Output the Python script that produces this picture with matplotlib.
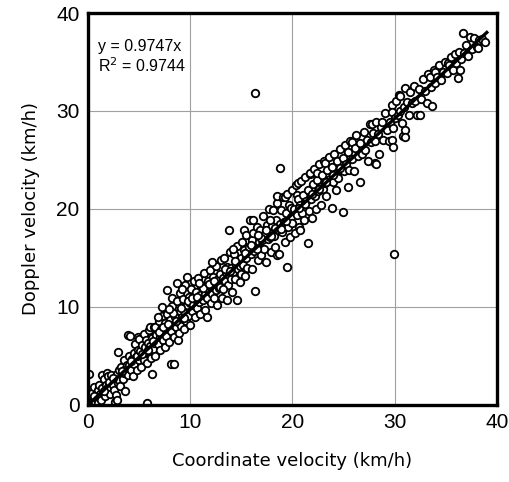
import matplotlib
matplotlib.use("Agg")
import matplotlib.pyplot as plt
import numpy as np

# Scatter points (coordinate velocity, doppler velocity) in km/h
band_00_05 = [
    (0.0, 0.0), (0.1, 0.2), (0.1, 3.2), (0.2, 0.6), (0.2, 0.9), (0.3, 0.1), (0.4, 1.2), (0.4, 0.0),
    (0.5, 0.4), (0.6, 1.8), (0.7, 0.3), (0.8, 1.0), (0.9, 0.6), (1.0, 1.5), (1.0, 0.2), (1.1, 2.0),
    (1.2, 1.1), (1.3, 0.5), (1.4, 1.7), (1.4, 3.1), (1.5, 1.2), (1.6, 2.6), (1.7, 0.9), (1.8, 2.0),
    (1.9, 1.4), (1.9, 3.3), (2.0, 2.9), (2.0, 1.8), (2.1, 2.3), (2.2, 1.1), (2.3, 3.0), (2.4, 2.0),
    (2.5, 1.5), (2.6, 0.3), (2.7, 1.0), (2.7, 2.6), (2.8, 3.2), (2.8, 0.5), (2.9, 2.2), (2.9, 5.4),
    (3.0, 3.6), (3.0, 2.5), (3.1, 1.9), (3.2, 3.9), (3.3, 3.0), (3.4, 2.6), (3.5, 4.6), (3.5, 3.3),
    (3.6, 1.4), (3.7, 3.8), (3.8, 4.1), (3.9, 3.1), (3.9, 7.1), (4.0, 5.0), (4.0, 4.1), (4.1, 7.0),
    (4.2, 3.6), (4.3, 4.7), (4.4, 2.9), (4.5, 5.3), (4.5, 4.2), (4.6, 6.2), (4.7, 4.9), (4.8, 3.6),
    (4.9, 5.6), (4.9, 6.9), (5.0, 4.6), (5.0, 6.7),
    (0.6, 0.9), (1.6, 1.4), (2.4, 2.7), (3.3, 3.5), (4.2, 4.5), (4.8, 5.0),
]
band_05_10 = [
    (5.1, 5.5), (5.2, 3.9), (5.3, 6.1), (5.4, 5.0), (5.5, 7.2), (5.5, 4.6), (5.6, 5.9), (5.7, 6.6),
    (5.8, 0.2), (5.8, 4.3), (5.9, 6.3), (6.0, 5.4), (6.0, 7.6), (6.1, 6.0), (6.1, 7.9), (6.2, 4.8),
    (6.3, 3.2), (6.3, 6.8), (6.4, 5.7), (6.5, 8.0), (6.5, 6.3), (6.6, 5.0), (6.6, 7.9), (6.7, 7.1),
    (6.8, 6.2), (6.9, 8.6), (7.0, 6.9), (7.0, 5.6), (7.1, 7.7), (7.2, 9.1), (7.2, 10.0), (7.3, 6.6),
    (7.4, 7.3), (7.5, 8.4), (7.5, 5.9), (7.6, 7.0), (7.7, 11.7), (7.7, 9.3), (7.8, 7.8), (7.9, 6.4),
    (8.0, 8.7), (8.1, 4.2), (8.1, 7.5), (8.2, 10.1), (8.2, 10.9), (8.3, 8.2), (8.4, 4.2), (8.4, 6.9),
    (8.5, 9.0), (8.6, 7.9), (8.7, 10.6), (8.7, 12.4), (8.8, 8.5), (8.8, 6.6), (8.9, 7.3), (9.0, 9.6),
    (9.0, 11.4), (9.1, 8.1), (9.2, 9.0), (9.3, 10.8), (9.4, 7.7), (9.5, 9.4), (9.5, 12.2), (9.6, 8.6),
    (9.7, 13.1), (9.7, 10.2), (9.8, 9.1), (9.9, 11.0), (10.0, 8.2), (10.0, 10.4),
    (5.3, 5.2), (5.9, 5.6), (6.4, 6.5), (6.9, 7.4), (7.3, 7.9), (7.8, 8.3), (8.3, 9.4), (8.6, 8.6),
    (9.1, 9.9), (9.4, 8.9), (9.8, 10.6), (6.8, 9.0), (7.9, 9.8), (9.2, 11.8),
]
band_10_15 = [
    (10.1, 11.8), (10.2, 9.6), (10.3, 10.2), (10.4, 12.6), (10.5, 9.0), (10.5, 10.8), (10.6, 11.5),
    (10.7, 9.9), (10.8, 13.0), (10.9, 10.5), (11.0, 11.2), (11.0, 9.3), (11.1, 12.1), (11.2, 10.7),
    (11.3, 13.5), (11.4, 9.7), (11.4, 11.3), (11.5, 12.0), (11.6, 9.0), (11.6, 10.9), (11.7, 12.6),
    (11.8, 11.6), (11.9, 13.8), (12.0, 10.4), (12.0, 12.0), (12.1, 11.3), (12.2, 13.1), (12.3, 10.9),
    (12.4, 12.3), (12.5, 14.2), (12.5, 11.7), (12.6, 10.2), (12.7, 12.8), (12.8, 11.9), (12.9, 13.4),
    (13.0, 14.8), (13.0, 12.4), (13.1, 10.9), (13.2, 13.0), (13.3, 15.0), (13.4, 12.6), (13.5, 13.6),
    (13.6, 10.7), (13.6, 14.1), (13.7, 12.2), (13.8, 17.9), (13.8, 13.3), (13.9, 15.6), (14.0, 12.8),
    (14.0, 14.0), (14.1, 11.5), (14.2, 13.6), (14.3, 15.4), (14.4, 12.9), (14.5, 14.3), (14.6, 10.7),
    (14.6, 16.2), (14.7, 13.9), (14.8, 14.8), (14.9, 12.5), (15.0, 15.0), (15.0, 13.4),
    (10.2, 10.9), (10.7, 11.0), (11.2, 11.9), (11.8, 12.3), (12.3, 12.6), (12.9, 12.0), (13.4, 13.9),
    (13.9, 13.7), (14.4, 14.7), (14.9, 14.2), (10.9, 12.4), (12.1, 14.6), (13.2, 11.8), (14.2, 15.9),
]
band_15_20 = [
    (15.1, 16.6), (15.2, 14.3), (15.3, 15.8), (15.3, 17.9), (15.4, 13.2), (15.5, 17.3), (15.5, 15.0),
    (15.6, 14.0), (15.7, 16.1), (15.8, 18.9), (15.9, 15.4), (16.0, 16.8), (16.0, 13.9), (16.1, 17.5),
    (16.1, 18.9), (16.2, 15.7), (16.3, 31.8), (16.3, 11.6), (16.4, 16.2), (16.5, 18.2), (16.6, 14.8),
    (16.7, 16.6), (16.8, 17.9), (16.9, 15.3), (17.0, 16.8), (17.1, 19.3), (17.2, 15.9), (17.3, 17.4),
    (17.4, 14.6), (17.5, 18.4), (17.6, 16.9), (17.7, 20.0), (17.8, 17.1), (17.9, 15.6), (18.0, 18.3),
    (18.1, 19.9), (18.2, 17.2), (18.3, 16.1), (18.4, 18.9), (18.5, 20.6), (18.5, 21.3), (18.5, 15.3),
    (18.6, 17.8), (18.7, 15.4), (18.8, 24.2), (18.8, 18.5), (18.9, 19.9), (19.0, 17.6), (19.1, 21.2),
    (19.2, 18.7), (19.3, 16.6), (19.3, 21.2), (19.4, 19.6), (19.5, 14.1), (19.5, 21.5), (19.6, 18.2),
    (19.7, 20.4), (19.8, 17.1), (19.9, 19.2), (20.0, 21.9), (20.0, 18.6),
    (15.4, 15.5), (15.9, 16.3), (16.5, 15.9), (16.9, 17.0), (17.4, 17.8), (17.9, 17.2), (18.3, 18.1),
    (18.9, 18.0), (19.4, 18.8), (19.9, 20.1), (16.6, 17.3), (17.8, 18.9),
]
band_20_25 = [
    (20.1, 20.0), (20.2, 17.5), (20.3, 22.4), (20.4, 19.4), (20.4, 21.4), (20.5, 21.0), (20.5, 22.6),
    (20.6, 18.2), (20.7, 20.4), (20.7, 17.9), (20.8, 22.9), (20.9, 19.6), (21.0, 21.4), (21.1, 18.9),
    (21.2, 23.3), (21.3, 20.8), (21.5, 16.5), (21.5, 21.9), (21.6, 19.8), (21.7, 23.6), (21.7, 23.7),
    (21.8, 21.0), (21.9, 19.1), (22.0, 22.5), (22.1, 24.1), (22.2, 21.3), (22.3, 20.0), (22.4, 23.0),
    (22.4, 23.7), (22.5, 21.8), (22.6, 24.6), (22.7, 22.2), (22.8, 20.4), (22.9, 23.5), (23.0, 22.0),
    (23.1, 24.9), (23.2, 22.6), (23.2, 24.7), (23.3, 21.3), (23.4, 24.0), (23.5, 22.9), (23.6, 25.3),
    (23.7, 23.1), (23.9, 20.1), (23.9, 24.3), (24.0, 22.7), (24.1, 25.6), (24.2, 23.6), (24.3, 21.9),
    (24.4, 24.9), (24.5, 23.2), (24.6, 26.1), (24.7, 24.0), (24.9, 19.7), (24.9, 25.2), (25.0, 23.9),
    (20.6, 20.1), (21.2, 20.5), (21.9, 21.5), (22.6, 22.0), (23.3, 22.8), (24.0, 23.5), (24.6, 24.2),
]
band_25_30 = [
    (25.1, 26.5), (25.2, 24.6), (25.4, 22.2), (25.4, 25.8), (25.5, 24.0), (25.6, 26.9), (25.8, 26.8),
    (25.8, 25.1), (26.0, 23.9), (26.1, 26.2), (26.2, 27.5), (26.4, 25.4), (26.6, 22.7), (26.6, 26.7),
    (26.8, 25.6), (27.0, 27.9), (27.1, 26.0), (27.3, 27.0), (27.4, 24.9), (27.6, 28.7), (27.7, 26.8),
    (27.8, 28.7), (27.9, 27.8), (28.1, 24.7), (28.1, 26.9), (28.2, 28.9), (28.2, 24.6), (28.4, 27.6),
    (28.5, 25.6), (28.7, 28.4), (28.8, 28.9), (28.9, 27.0), (29.0, 29.8), (29.2, 28.1), (29.4, 26.9),
    (29.5, 28.9), (29.7, 30.6), (29.7, 29.9), (29.7, 27.0), (29.8, 26.3), (29.8, 28.3), (29.9, 15.4),
    (30.0, 29.3),
]
band_30_40 = [
    (30.1, 31.0), (30.3, 29.6), (30.4, 31.6), (30.5, 30.0), (30.5, 31.5), (30.7, 28.8), (30.8, 27.4),
    (30.9, 30.4), (31.0, 32.3), (31.0, 28.1), (31.0, 27.3), (31.2, 30.9), (31.4, 29.6), (31.5, 31.9),
    (31.7, 30.8), (31.9, 32.6), (32.0, 31.0), (32.2, 29.6), (32.4, 32.2), (32.5, 29.6), (32.6, 31.2),
    (32.8, 33.3), (33.0, 32.0), (33.2, 30.8), (33.3, 33.8), (33.4, 33.5), (33.5, 32.4), (33.6, 30.5),
    (33.8, 34.2), (33.9, 32.9), (33.9, 34.0), (34.1, 33.5), (34.3, 34.7), (34.5, 33.2), (34.7, 34.0),
    (34.9, 35.0), (35.1, 33.9), (35.2, 34.9), (35.3, 34.7), (35.5, 35.5), (35.7, 34.2), (35.9, 35.8),
    (36.0, 34.9), (36.2, 33.4), (36.3, 36.0), (36.4, 34.2), (36.5, 35.3), (36.7, 38.0), (36.8, 35.9),
    (37.0, 36.7), (37.2, 35.6), (37.4, 37.6), (37.6, 36.3), (37.8, 37.5), (38.0, 36.5), (38.1, 36.4),
    (38.2, 37.2), (38.5, 37.3), (38.8, 37.0),
]

slope = 0.9747
r2 = 0.9744
fit_x = [0.0, 39.0]

x_ticks = [0, 10, 20, 30, 40]
x_label = "Coordinate velocity (km/h)"
y_label = "Doppler velocity (km/h)"

pts = np.array(band_00_05 + band_05_10 + band_10_15 + band_15_20 +
               band_20_25 + band_25_30 + band_30_40)

fig = plt.figure(figsize=(5.10, 4.82), dpi=100)
ax = fig.add_axes([0.1725, 0.160, 0.802, 0.813])

ax.grid(True, color="#a0a0a0", linewidth=0.8, zorder=0)
ax.plot(pts[:, 0], pts[:, 1], linestyle="none", marker="o", markersize=5.4,
        markerfacecolor="white", markeredgecolor="black", markeredgewidth=1.3, zorder=3)
fx = np.array(fit_x)
ax.plot(fx, slope * fx, color="black", linewidth=2.4, zorder=4)

ax.set_xlim(0, 40)
ax.set_ylim(0, 40)
ax.set_xticks(x_ticks)
ax.set_yticks(x_ticks)
ax.tick_params(length=0, pad=6, labelsize=15)
for lbl in ax.get_xticklabels() + ax.get_yticklabels():
    lbl.set_family("Liberation Sans")
for sp in ax.spines.values():
    sp.set_linewidth(2.4)
    sp.set_zorder(5)

ax.set_xlabel(x_label, fontsize=13, family="DejaVu Sans", labelpad=14)
ax.set_ylabel(y_label, fontsize=13, family="DejaVu Sans", labelpad=12)

ax.text(0.025, 0.903, f"y = {slope}x", transform=ax.transAxes, fontsize=11.5,
        family="Liberation Sans", va="baseline")
ax.text(0.025, 0.850, f"R$^2$ = {r2}", transform=ax.transAxes, fontsize=11.5,
        family="Liberation Sans", va="baseline")

fig.savefig("out.png", dpi=100)
